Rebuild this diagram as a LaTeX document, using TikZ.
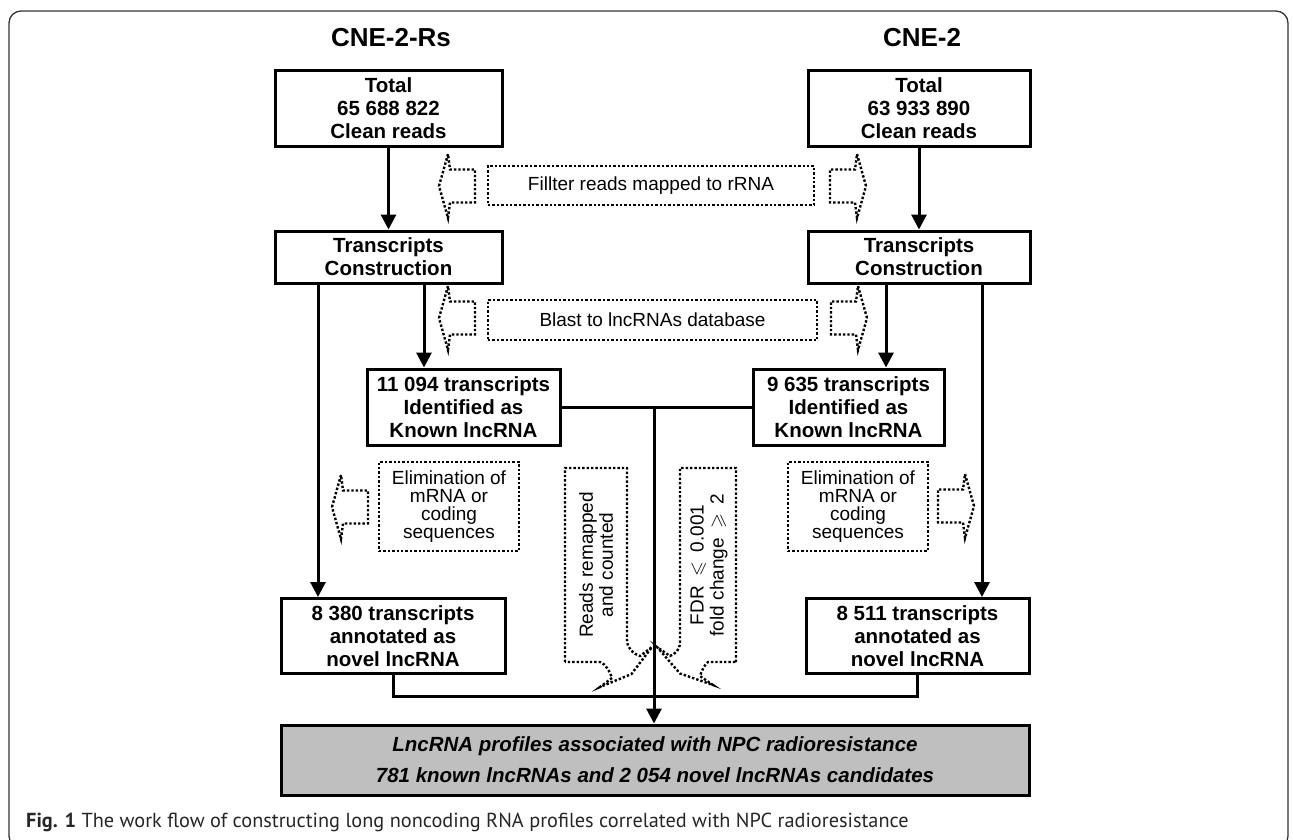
\documentclass[tikz,border=0pt]{standalone}
\usepackage{amssymb}
\usepackage{fontspec}
\setmainfont{Liberation Sans}
\newfontfamily\capfont{PT Sans}
\usetikzlibrary{arrows.meta}
\tikzset{
  box/.style={draw, line width=3pt, align=center, inner sep=0pt,
    font=\fontsize{20.5}{23}\selectfont\bfseries},
  dotln/.style={line width=2.4pt, dash pattern=on 2.4pt off 2pt},
  dotbox/.style={draw, dotln, align=center, inner sep=0pt,
    font=\fontsize{19}{18}\selectfont},
  arr/.style={line width=3pt, -{Triangle[length=15pt,width=15pt]}},
  ln/.style={line width=3pt},
  hollowl/.pic={\draw[dotln] (0,0) -- (9,-32) -- (11,-16.5) -- (36,-16.5) -- (36,16.5) -- (11,16.5) -- (9,32) -- cycle;},
  hollowr/.pic={\draw[dotln] (0,0) -- (-9,-32) -- (-11,-16.5) -- (-36,-16.5) -- (-36,16.5) -- (-11,16.5) -- (-9,32) -- cycle;},
  headtxt/.style={font=\fontsize{26}{26}\selectfont\bfseries},
  rottxt/.style={rotate=90, align=center, inner sep=0pt, font=\fontsize{19}{20}\selectfont}
}
\begin{document}
\begin{tikzpicture}[x=1pt,y=-1pt]
\useasboundingbox (0,0) rectangle (1293,839);
\draw[black!80, line width=1.3pt, rounded corners=12pt] (9,11) rectangle (1288,848);

\node[headtxt] (h1) at (391,38) {CNE-2-Rs};
\node[headtxt] (h2) at (922,38) {CNE-2};

\node[box, minimum width=227pt, minimum height=76pt] (t1) at (388.5,108) {Total\\65 688 822\\Clean reads};
\node[box, minimum width=222pt, minimum height=76pt] (t2) at (919,108) {Total\\63 933 890\\Clean reads};
\node[box, minimum width=227pt, minimum height=52pt] (tc1) at (388.5,257) {Transcripts\\Construction};
\node[box, minimum width=222pt, minimum height=52pt] (tc2) at (919,257) {Transcripts\\Construction};
\node[box, minimum width=193pt, minimum height=76pt] (k1) at (463.5,407) {11 094 transcripts\\Identified as\\Known lncRNA};
\node[box, minimum width=191pt, minimum height=76pt] (k2) at (848.5,407) {9 635 transcripts\\Identified as\\Known lncRNA};
\node[box, minimum width=224pt, minimum height=75pt] (n1) at (393,636) {8 380 transcripts\\annotated as\\novel lncRNA};
\node[box, minimum width=223pt, minimum height=75pt] (n2) at (917.5,636) {8 511 transcripts\\annotated as\\novel lncRNA};
\node[box, fill=black!25, minimum width=748pt, minimum height=70pt, font=\fontsize{20.5}{31}\selectfont\bfseries\itshape] (fin) at (655,760) {LncRNA profiles associated with NPC radioresistance\\781 known lncRNAs and 2 054 novel lncRNAs candidates};

\node[dotbox, minimum width=326pt, minimum height=39pt] (f) at (651,185.5) {Fillter reads mapped to rRNA};
\node[dotbox, minimum width=329pt, minimum height=40pt] (b) at (652.5,320) {Blast to lncRNAs database};
\node[dotbox, minimum width=140pt, minimum height=89pt] (e1) at (449,506.5) {Elimination of\\mRNA or\\coding\\sequences};
\node[dotbox, minimum width=140pt, minimum height=89pt] (e2) at (858,506.5) {Elimination of\\mRNA or\\coding\\sequences};

\pic at (439,186) {hollowl};
\pic at (866,186) {hollowr};
\pic at (439,318) {hollowl};
\pic at (867,318) {hollowr};
\pic at (332,507) {hollowl};
\pic at (974,506) {hollowr};

\coordinate (xa) at (424,0);
\coordinate (xb) at (318,0);
\coordinate (xc) at (886,0);
\coordinate (xd) at (982,0);
\coordinate (cj) at (654,407);
\coordinate (bj) at (654,696);

\draw[arr] (t1.south) -- (tc1.north);
\draw[arr] (t2.south) -- (tc2.north);
\draw[arr] (tc1.south -| xa) -- (k1.north -| xa);
\draw[arr] (tc1.south -| xb) -- (n1.north -| xb);
\draw[arr] (tc2.south -| xc) -- (k2.north -| xc);
\draw[arr] (tc2.south -| xd) -- (n2.north -| xd);
\draw[ln] (k1.east) -- (k2.west);
\draw[arr] (cj) -- (cj |- fin.north);
\draw[ln] (n1.south) |- (bj);
\draw[ln] (n2.south) |- (bj);

% callouts
\draw[dotln] (565,662) -- (565,468) -- (627,468) -- (627,640) .. controls (627,648) and (633,654) .. (640,656) -- (652,647) -- (631.5,674) -- (600,687) -- (612,678) .. controls (610,672) and (606,664) .. (600,662) -- cycle;
\draw[dotln] (736,662) -- (736,468) -- (680,468) -- (680,642) .. controls (680,650) and (675,654) .. (670,656) -- (657,647) -- (680,673.5) -- (713,685) -- (700,676) .. controls (702,670) and (705,664) .. (708,662) -- cycle;
\node[rottxt] (rr) at (596,565) {Reads remapped\\and counted};
\node[rottxt] (fdr) at (709,565) {FDR\enspace$\leqslant$\enspace0.001\\fold change\enspace$\geqslant$\enspace2};

\node[anchor=base west, inner sep=0pt, font=\capfont\fontsize{20.3}{21}\selectfont, text=black!85] (cap) at (26,827) {\textbf{Fig. 1} The work flow of constructing long noncoding RNA profiles correlated with NPC radioresistance};
\end{tikzpicture}
\end{document}
